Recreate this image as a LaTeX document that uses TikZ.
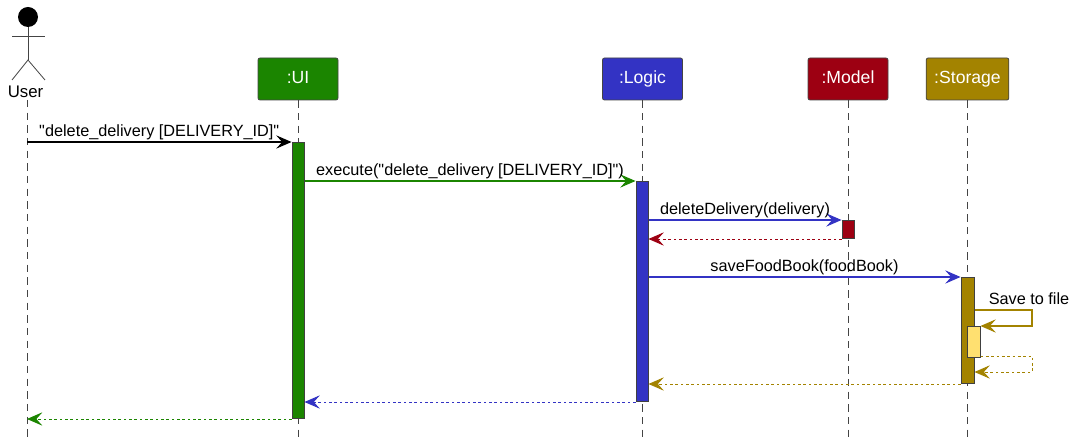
\documentclass[tikz,border=0pt]{standalone}
\usepackage{fontspec}
\newfontfamily\labelfont{Liberation Sans}
\usepackage{tikz}
\usetikzlibrary{arrows.meta, fit}
\definecolor{uicolor}{HTML}{1B8500}
\definecolor{logiccolor}{HTML}{3333C4}
\definecolor{modelcolor}{HTML}{9D0012}
\definecolor{storagecolor}{HTML}{A38300}
\definecolor{filecolor}{HTML}{FFE070}
\definecolor{edgecolor}{HTML}{444444}
\tikzstyle{participant} = [rectangle, rounded corners=1.5pt, minimum width=60pt, minimum height=31.5pt, text height=9.4pt, text depth=2.8pt, text=white, draw=edgecolor, line width=0.6pt, font=\labelfont\fontsize{13.2}{15}\selectfont]
\tikzstyle{activation} = [rectangle, inner sep=0pt, draw=black!75, line width=0.75pt]
\tikzstyle{lifeline} = [draw=edgecolor, line width=0.6pt, dash pattern=on 5.5pt off 4pt]
\tikzstyle{actorline} = [draw=edgecolor, line width=0.6pt]
\tikzstyle{msg} = [line width=0.8pt, -{Stealth[length=11.5pt, width=10pt, inset=4.5pt]}]
\tikzstyle{ret} = [msg, line width=0.7pt, dash pattern=on 2pt off 2pt]
\tikzstyle{msglabel} = [midway, above, inner sep=0pt, yshift=1.2pt, text=black]

\begin{document}
\begin{tikzpicture}[x=0.75pt, y=-0.75pt, font=\labelfont\fontsize{12.2}{14}\selectfont]
\useasboundingbox (0,0) rectangle (1077,448);
% actor
\node (head) [circle, fill=black, inner sep=0pt, minimum size=15pt] at (28,17) {};
\coordinate (hip) at (28,60);
\draw [actorline] (head) -- (hip);
\draw [actorline] (12,36) -- (45,36);
\draw [actorline] (12,80) -- (hip) -- (45,80);
\node (user) [inner sep=0pt, font=\labelfont\fontsize{12.6}{14}\selectfont] at (25.5,91.5) {User};
% participants
\node (ui) [participant, fill=uicolor] at (298,79) {:UI};
\node (logic) [participant, fill=logiccolor] at (642.5,79) {:Logic};
\node (model) [participant, fill=modelcolor] at (848,79) {:Model};
\node (storage) [participant, fill=storagecolor, minimum width=62pt] at (967.5,79) {:Storage};
% lifelines
\coordinate (userTop) at (27,100);
\coordinate (userEnd) at (27,441);
\draw [lifeline] (userTop) -- (userEnd);
\draw [lifeline] (ui.south) -- (ui.south |- userEnd);
\draw [lifeline] (logic.south) -- (logic.south |- userEnd);
\draw [lifeline] (model.south) -- (model.south |- userEnd);
\draw [lifeline] (storage.south) -- (storage.south |- userEnd);
% activations
\node (uiBar) [activation, fill=uicolor, fit={(292,142.5) (304,418.5)}] {};
\node (logicBar) [activation, fill=logiccolor, fit={(636,181.5) (648,401.5)}] {};
\node (modelBar) [activation, fill=modelcolor, fit={(842,220.5) (854,238.5)}] {};
\node (storageBar) [activation, fill=storagecolor, fit={(961,277.5) (974,383.5)}] {};
\node (fileBar) [activation, fill=filecolor, fit={(967,326.5) (980,357.5)}] {};
% messages
\draw [msg, color=black] (userTop |- uiBar.north) -- (uiBar.north west) node [msglabel] {"delete\_delivery [DELIVERY\_ID]"};
\draw [msg, color=uicolor] (uiBar.east |- logicBar.north) -- (logicBar.north west) node [msglabel] {execute("delete\_delivery [DELIVERY\_ID]")};
\draw [msg, color=logiccolor] (logicBar.east |- modelBar.north) -- (modelBar.north west) node [msglabel] {deleteDelivery(delivery)};
\draw [ret, color=modelcolor] (modelBar.south west) -- (logicBar.east |- modelBar.south);
\draw [msg, color=logiccolor] (logicBar.east |- storageBar.north) -- (storageBar.north west) node [msglabel] {saveFoodBook(foodBook)};
% self call
\coordinate (loopOut) at (1032,310);
\coordinate (loopBack) at (1032,372);
\node (savelabel) [inner sep=0pt] at (1029,298.5) {Save to file};
\draw [msg, color=storagecolor] (storageBar.east |- loopOut) -- (loopOut) -- (loopOut |- fileBar.north) -- (fileBar.north east);
\draw [ret, color=storagecolor] (fileBar.east |- 0,356) -- (loopBack |- 0,356) -- (loopBack) -- (storageBar.east |- loopBack);
% returns
\draw [ret, color=storagecolor] (storageBar.south west) -- (logicBar.east |- storageBar.south);
\draw [ret, color=logiccolor] (logicBar.south west) -- (uiBar.east |- logicBar.south);
\draw [ret, color=uicolor] (uiBar.south west) -- (userTop |- uiBar.south);
\end{tikzpicture}
\end{document}
